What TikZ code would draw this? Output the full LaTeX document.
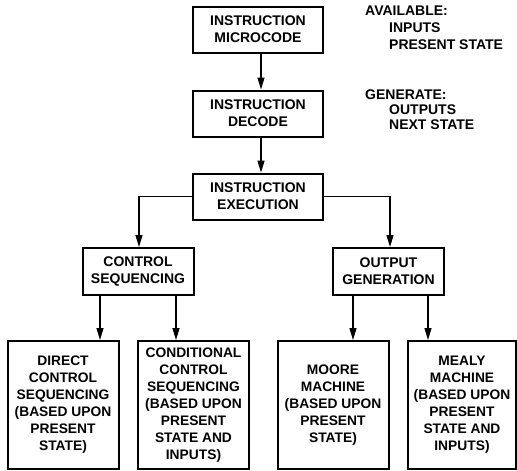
\documentclass[tikz,border=0pt]{standalone}
\usepackage{fontspec}
\setmainfont{Liberation Sans}
\usetikzlibrary{arrows.meta}
\begin{document}
\begin{tikzpicture}[x=1pt,y=-1pt,
  box/.style={draw,line width=2pt,align=center,inner sep=0pt,
    font=\bfseries\fontsize{14}{17}\selectfont},
  smallbox/.style={box,minimum width=130pt,minimum height=46pt},
  midbox/.style={box,minimum width=111pt,minimum height=47pt},
  bigbox/.style={box,minimum width=111pt,minimum height=128pt,
    font=\bfseries\fontsize{13.8}{17}\selectfont},
  conn/.style={line width=1.3pt,-{Triangle[length=12pt,width=7pt]}},
  note/.style={align=left,anchor=north west,inner sep=0pt,
    font=\bfseries\fontsize{14}{16.7}\selectfont}]
\useasboundingbox (0,0) rectangle (517,471);
\node[smallbox] (micro) at (258,29.5) {INSTRUCTION\\MICROCODE};
\node[smallbox] (decode) at (258,113.5) {INSTRUCTION\\DECODE};
\node[smallbox] (exec) at (258,196.5) {INSTRUCTION\\EXECUTION};
\node[midbox] (ctrl) at (138,271.5) {CONTROL\\SEQUENCING};
\node[midbox] (out) at (388.5,271.5) {OUTPUT\\GENERATION};
\node[bigbox] (direct) at (63,405) {DIRECT\\CONTROL\\SEQUENCING\\(BASED UPON\\PRESENT\\STATE)};
\node[bigbox] (cond) at (193.5,405) {CONDITIONAL\\CONTROL\\SEQUENCING\\(BASED UPON\\PRESENT\\STATE AND\\INPUTS)};
\node[bigbox] (moore) at (333,405) {MOORE\\MACHINE\\(BASED UPON\\PRESENT\\STATE)};
\node[bigbox,minimum width=108pt] (mealy) at (462,405) {MEALY\\MACHINE\\(BASED UPON\\PRESENT\\STATE AND\\INPUTS)};
\node[note] (avail) at (365,6) {AVAILABLE:\\\hspace*{24pt}INPUTS\\\hspace*{24pt}PRESENT STATE};
\node[note,font=\bfseries\fontsize{14}{15}\selectfont] (gen) at (365,90) {GENERATE:\\\hspace*{24pt}OUTPUTS\\\hspace*{24pt}NEXT STATE};
\draw[conn] ([xshift=3pt]micro.south) -- ([xshift=3pt]decode.north);
\draw[conn] ([xshift=3pt]decode.south) -- ([xshift=3pt]exec.north);
\draw[conn] (exec.west) -| ([xshift=1pt]ctrl.north);
\draw[conn] (exec.east) -| ([xshift=1.5pt]out.north);
\draw[conn] ([xshift=-38pt]ctrl.south) -- ([xshift=-38pt]ctrl.south |- direct.north);
\draw[conn] ([xshift=38pt]ctrl.south) -- ([xshift=38pt]ctrl.south |- cond.north);
\draw[conn] ([xshift=-35.5pt]out.south) -- ([xshift=-35.5pt]out.south |- moore.north);
\draw[conn] ([xshift=39.5pt]out.south) -- ([xshift=39.5pt]out.south |- mealy.north);
\end{tikzpicture}
\end{document}
